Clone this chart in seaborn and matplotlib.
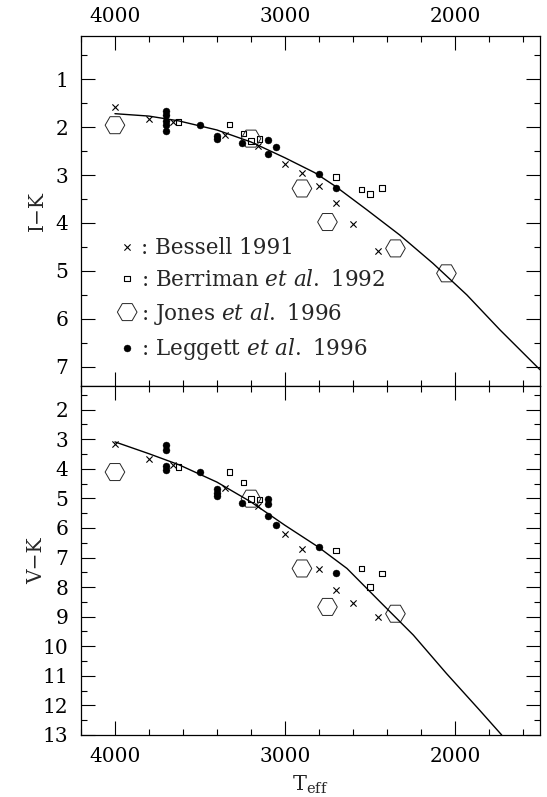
"""Colour-temperature relations for late M dwarfs: I-K and V-K vs Teff."""
import matplotlib
matplotlib.use("Agg")
import matplotlib.pyplot as plt
from matplotlib.ticker import MultipleLocator
import seaborn as sns

sns.set_theme(style="ticks")
plt.rcParams.update({
    "font.family": ["DejaVu Serif"],
    "mathtext.fontset": "custom",
    "mathtext.rm": "DejaVu Serif",
    "mathtext.it": "DejaVu Serif:italic",
    "axes.edgecolor": "black",
    "axes.linewidth": 0.9,
    "xtick.color": "black",
    "ytick.color": "black",
})

# Bessell 1991 (crosses)
bessell_teff = [4000, 3800, 3660, 3350, 3160, 3000, 2900, 2800, 2700, 2600, 2450]
bessell_ik = [1.59, 1.83, 1.89, 2.17, 2.39, 2.77, 2.95, 3.23, 3.59, 4.03, 4.59]
bessell_vk = [3.15, 3.66, 3.88, 4.64, 5.27, 6.19, 6.72, 7.38, 8.10, 8.55, 9.01]

# Berriman et al. 1992 (open squares)
berriman_teff = [3625, 3325, 3245, 3200, 3150, 2700, 2550, 2500, 2430]
berriman_ik = [1.89, 1.95, 2.13, 2.29, 2.25, 3.04, 3.30, 3.40, 3.27]
berriman_vk = [3.94, 4.11, 4.47, 5.03, 5.04, 6.76, 7.37, 7.99, 7.54]

# Jones et al. 1996 (open hexagons)
jones_teff_ik = [4000, 3200, 2900, 2750, 2350, 2050]
jones_ik = [1.96, 2.24, 3.28, 3.98, 4.53, 5.05]
jones_teff_vk = [4000, 3200, 2900, 2750, 2350]
jones_vk = [4.11, 5.01, 7.37, 8.67, 8.90]

# Leggett et al. 1996 (filled circles)
leggett_teff_ik = [3700, 3700, 3700, 3700, 3700, 3500, 3400, 3400, 3250,
                   3100, 3100, 3050, 2800, 2700]
leggett_ik = [1.66, 1.75, 1.87, 1.96, 2.08, 1.96, 2.18, 2.25, 2.33,
              2.26, 2.56, 2.42, 2.97, 3.26]
leggett_teff_vk = [3700, 3700, 3700, 3700, 3500, 3400, 3400, 3400, 3250,
                   3100, 3100, 3100, 3050, 2800, 2700]
leggett_vk = [3.21, 3.38, 3.91, 4.05, 4.11, 4.67, 4.82, 4.93, 5.14,
              5.01, 5.18, 5.60, 5.89, 6.66, 7.52]

# fitted relations
fit_teff_ik = [4000, 3800, 3625, 3400, 3200, 3000, 2825, 2705, 2520, 2325,
               2130, 1930, 1735, 1500]
fit_ik = [1.72, 1.77, 1.87, 2.06, 2.31, 2.64, 2.95, 3.23, 3.72, 4.25,
          4.84, 5.50, 6.23, 7.06]
fit_teff_vk = [4000, 3800, 3625, 3400, 3200, 3000, 2805, 2635, 2440, 2245,
               2050, 1855, 1725]
fit_vk = [3.09, 3.49, 3.86, 4.45, 5.12, 5.91, 6.64, 7.37, 8.50, 9.62,
          10.92, 12.16, 13.0]

LEGEND = [": Bessell 1991",
          r": Berriman $\mathit{et\ al.}$ 1992",
          r": Jones $\mathit{et\ al.}$ 1996",
          r": Leggett $\mathit{et\ al.}$ 1996"]


def draw_panel(ax, sets, fit_x, fit_y, labels):
    sns.lineplot(x=fit_x, y=fit_y, ax=ax, color="black", linewidth=1.0,
                 estimator=None, sort=False)
    (bx, by), (sx, sy), (hx, hy), (lx, ly) = sets
    sns.scatterplot(x=bx, y=by, ax=ax, marker="x", s=20, color="black",
                    linewidth=0.8, label=labels[0])
    sns.scatterplot(x=sx, y=sy, ax=ax, marker="s", s=16, facecolor="none",
                    edgecolor="black", linewidth=0.8, label=labels[1])
    sns.scatterplot(x=hx, y=hy, ax=ax, marker="H", s=200, facecolor="none",
                    edgecolor="0.15", linewidth=0.7, label=labels[2])
    sns.scatterplot(x=lx, y=ly, ax=ax, marker="o", s=25, color="black",
                    edgecolor="black", linewidth=0.3, label=labels[3])


def style_axis(ax, ylim, top_labels):
    ax.set_xlim(4200, 1500)
    ax.set_ylim(*ylim)
    ax.xaxis.set_major_locator(MultipleLocator(1000))
    ax.xaxis.set_minor_locator(MultipleLocator(200))
    ax.yaxis.set_major_locator(MultipleLocator(1))
    ax.yaxis.set_minor_locator(MultipleLocator(0.5))
    ax.tick_params(which="both", direction="in", top=True, right=True,
                   labelsize=14.5, pad=9)
    ax.tick_params(which="major", length=10, width=0.8)
    ax.tick_params(which="minor", length=4.5, width=0.8)
    ax.tick_params(axis="x", labeltop=top_labels, labelbottom=not top_labels,
                   pad=7 if top_labels else 9)
    ax.yaxis.set_label_coords(-0.075, 0.5)


fig = plt.figure(figsize=(5.47, 7.97), dpi=100)
ax_top = fig.add_axes([0.148, 0.5157, 0.8391, 0.4391])
ax_bot = fig.add_axes([0.148, 0.0778, 0.8391, 0.4379])

draw_panel(ax_top,
           [(bessell_teff, bessell_ik), (berriman_teff, berriman_ik),
            (jones_teff_ik, jones_ik), (leggett_teff_ik, leggett_ik)],
           fit_teff_ik, fit_ik, LEGEND)
draw_panel(ax_bot,
           [(bessell_teff, bessell_vk), (berriman_teff, berriman_vk),
            (jones_teff_vk, jones_vk), (leggett_teff_vk, leggett_vk)],
           fit_teff_vk, fit_vk, [None] * 4)
if ax_bot.get_legend() is not None:
    ax_bot.get_legend().remove()

style_axis(ax_top, (7.4, 0.1), top_labels=True)
style_axis(ax_bot, (13, 1.2), top_labels=False)

ax_top.set_ylabel("I\u2212K", fontsize=14.5)
ax_bot.set_ylabel("V\u2212K", fontsize=14.5)
ax_top.set_xlabel("")
ax_bot.set_xlabel(r"T$_{\rm eff}$", fontsize=15, labelpad=5)

ax_top.legend(loc="upper left", bbox_to_anchor=(0.082, 0.425),
              borderaxespad=0, borderpad=0, handlelength=0.8,
              handletextpad=0.25, labelspacing=0.45, fontsize=15.5,
              frameon=False, scatteryoffsets=[0.5])

fig.savefig("out.png", dpi=100)
